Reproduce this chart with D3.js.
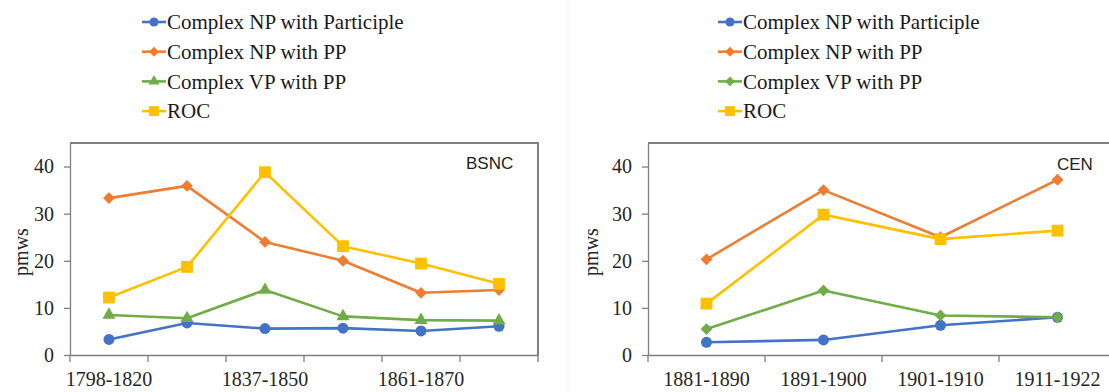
<!DOCTYPE html>
<html>
<head>
<meta charset="utf-8">
<script src="https://cdn.jsdelivr.net/npm/d3@7"></script>
<style>
  body { margin: 0; background: #fff; }
  svg { display: block; }
</style>
</head>
<body>
<svg id="chart" width="1109" height="392"></svg>
<script>
// Series names (legend order)
var seriesNames = ["Complex NP with Participle", "Complex NP with PP", "Complex VP with PP", "ROC"];
var seriesColors = ["#4472C4", "#ED7D31", "#70AD47", "#FFC000"];

// BSNC panel
var bsncPeriods = ["1798-1820", "1821-1836", "1837-1850", "1851-1860", "1861-1870", "1871-1880"];
var bsncNpParticiple = [3.3, 6.8, 5.6, 5.7, 5.1, 6.1];
var bsncNpPP = [33.3, 35.9, 24.0, 20.0, 13.2, 13.8];
var bsncVpPP = [8.5, 7.8, 13.8, 8.2, 7.4, 7.3];
var bsncROC = [12.2, 18.7, 38.8, 23.1, 19.4, 15.1];

// CEN panel
var cenPeriods = ["1881-1890", "1891-1900", "1901-1910", "1911-1922"];
var cenNpParticiple = [2.7, 3.2, 6.3, 8.0];
var cenNpPP = [20.3, 35.0, 25.0, 37.2];
var cenVpPP = [5.5, 13.7, 8.4, 8.0];
var cenROC = [10.9, 29.8, 24.6, 26.4];

var yTicks = [0, 10, 20, 30, 40];

var svg = d3.select("#chart");

// square rotated 45 degrees, like the spreadsheet diamond marker
var diamond = {
  draw: function(ctx, size) {
    var r = Math.sqrt(size / 2);
    ctx.moveTo(0, -r); ctx.lineTo(r, 0); ctx.lineTo(0, r); ctx.lineTo(-r, 0); ctx.closePath();
  }
};

var axisColor = "#7f7f7f";
var serif = "'Liberation Serif', 'DejaVu Serif', serif";

function drawPanel(opt) {
  var g = svg.append("g");

  var x = d3.scaleBand()
    .domain(opt.periods)
    .range([opt.left, opt.left + opt.step * opt.periods.length])
    .paddingInner(0).paddingOuter(0);

  var y = d3.scaleLinear()
    .domain([0, 45])
    .range([opt.bottom, opt.top]);

  // plot frame (top + right)
  var right = x.range()[1];
  g.append("path")
    .attr("d", "M" + opt.left + "," + opt.top + "H" + right + "V" + opt.bottom)
    .attr("fill", "none")
    .attr("stroke", axisColor)
    .attr("stroke-width", 1.3)
    .attr("shape-rendering", "crispEdges");

  // y axis
  var yAxis = g.append("g")
    .attr("transform", "translate(" + opt.left + ",0)")
    .attr("font-family", serif)
    .call(d3.axisLeft(y).tickValues(yTicks).tickSize(6).tickSizeOuter(0).tickPadding(10));
  yAxis.select(".domain").attr("stroke", axisColor).attr("stroke-width", 1.3);
  yAxis.selectAll(".tick line").attr("stroke", axisColor).attr("stroke-width", 1.3);
  yAxis.selectAll(".tick text")
    .attr("fill", "#262626")
    .style("font-family", serif)
    .style("font-size", "20px");

  // x axis: labels at band centres, tick marks at band edges
  var xAxis = g.append("g")
    .attr("transform", "translate(0," + opt.bottom + ")")
    .call(d3.axisBottom(x).tickSize(0).tickSizeOuter(0).tickPadding(17)
      .tickFormat(function(d, i) { return i % opt.labelEvery === 0 ? d : ""; }));
  xAxis.select(".domain").attr("stroke", axisColor).attr("stroke-width", 1.3);
  xAxis.selectAll(".tick text")
    .attr("fill", "#262626")
    .style("font-family", serif)
    .style("font-size", "20px");

  var edges = opt.periods.map(function(p) { return x(p); }).concat([right]);
  g.selectAll(".xedge")
    .data(edges)
    .enter().append("line")
    .attr("x1", function(d) { return d; })
    .attr("x2", function(d) { return d; })
    .attr("y1", opt.bottom)
    .attr("y2", opt.bottom + 7)
    .attr("stroke", axisColor)
    .attr("stroke-width", 1.3);

  // y label
  g.append("text")
    .attr("transform", "translate(" + opt.yLabelX + "," + ((opt.top + opt.bottom) / 2 + 3) + ") rotate(-90)")
    .attr("text-anchor", "middle")
    .attr("fill", "#262626")
    .style("font-family", serif)
    .style("font-size", "20px")
    .text("pmws");

  // lines and markers
  var line = d3.line()
    .x(function(d, i) { return x(opt.periods[i]) + x.bandwidth() / 2; })
    .y(function(d) { return y(d); });

  opt.series.forEach(function(values, s) {
    g.append("path")
      .datum(values)
      .attr("d", line)
      .attr("fill", "none")
      .attr("stroke", seriesColors[s])
      .attr("stroke-width", 2.6)
      .attr("stroke-linejoin", "round");
  });
  opt.series.forEach(function(values, s) {
    var sym = d3.symbol().type(opt.symbols[s]).size(opt.sizes[s]);
    g.selectAll(".m" + s)
      .data(values)
      .enter().append("path")
      .attr("d", sym)
      .attr("transform", function(d, i) {
        return "translate(" + (x(opt.periods[i]) + x.bandwidth() / 2) + "," + y(d) + ")";
      })
      .attr("fill", seriesColors[s]);
  });

  // corpus label
  g.append("text")
    .attr("x", opt.tagX)
    .attr("y", opt.tagY)
    .attr("fill", "#222")
    .style("font-family", "'Liberation Sans', Arial, sans-serif")
    .style("font-size", "17px")
    .text(opt.tag);

  // legend
  var lg = g.append("g");
  seriesNames.forEach(function(name, s) {
    var cy = 22 + s * 29.7;
    lg.append("line")
      .attr("x1", opt.legendX).attr("x2", opt.legendX + 24)
      .attr("y1", cy).attr("y2", cy)
      .attr("stroke", seriesColors[s]).attr("stroke-width", 2.6);
    lg.append("path")
      .attr("d", d3.symbol().type(opt.symbols[s]).size(opt.sizes[s] * 0.7))
      .attr("transform", "translate(" + (opt.legendX + 12) + "," + cy + ")")
      .attr("fill", seriesColors[s]);
    lg.append("text")
      .attr("x", opt.legendX + 25)
      .attr("y", cy)
      .attr("dy", "0.35em")
      .attr("fill", "#1a1a1a")
      .style("font-family", serif)
      .style("font-size", "21px")
      .text(name);
  });
}

// faint seam between the two panels
svg.append("line")
  .attr("x1", 568).attr("x2", 568).attr("y1", 0).attr("y2", 392)
  .attr("stroke", "#f2f2f2").attr("stroke-width", 1);

drawPanel({
  periods: bsncPeriods,
  series: [bsncNpParticiple, bsncNpPP, bsncVpPP, bsncROC],
  symbols: [d3.symbolCircle, diamond, d3.symbolTriangle, d3.symbolSquare],
  sizes: [95, 70, 75, 140],
  left: 70, step: 78, top: 143, bottom: 355,
  labelEvery: 2,
  yLabelX: 28,
  tag: "BSNC", tagX: 466, tagY: 169,
  legendX: 142
});

drawPanel({
  periods: cenPeriods,
  series: [cenNpParticiple, cenNpPP, cenVpPP, cenROC],
  symbols: [d3.symbolCircle, diamond, diamond, d3.symbolSquare],
  sizes: [95, 70, 70, 140],
  left: 648, step: 117, top: 143, bottom: 355,
  labelEvery: 1,
  yLabelX: 598,
  tag: "CEN", tagX: 1057, tagY: 170,
  legendX: 718
});
</script>
</body>
</html>
